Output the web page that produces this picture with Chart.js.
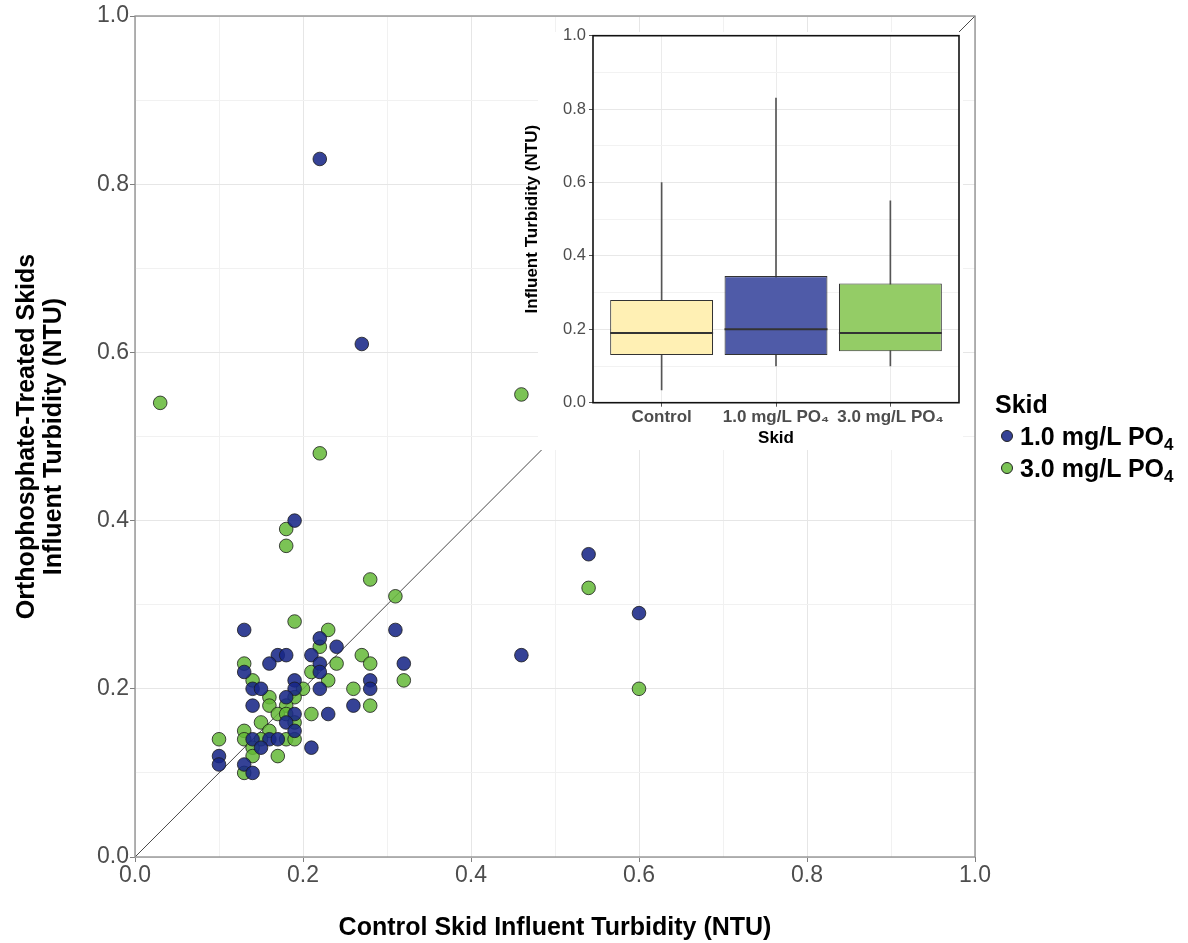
<!DOCTYPE html>
<html>
<head>
<meta charset="utf-8">
<title>Influent Turbidity by Skid</title>
<script src="https://cdn.jsdelivr.net/npm/chart.js@4.4.1/dist/chart.umd.min.js"></script>
<style>
    body { margin: 0; background: #fff; }
    #wrap { position: relative; width: 1188px; height: 943px; font-family: "Liberation Sans", Arial, sans-serif; }
    #main_canvas { position: absolute; left: 0; top: 0; }
    #inset_bg { position: absolute; left: 538px; top: 32px; width: 425px; height: 418px; background: #fff; }
    #inset_canvas { position: absolute; left: 500px; top: 15px; }
    #legend { position: absolute; left: 995px; top: 388px; font-weight: bold; font-size: 25px; color: #000; }
    #legend div { line-height: 32px; height: 32px; white-space: nowrap; }
    #legend .dot { display: inline-block; width: 10px; height: 10px; border-radius: 50%; border: 1px solid #222;
        margin: 0 7px 0 6px; vertical-align: middle; position: relative; top: -2px; }
    #legend sub { font-size: 17px; vertical-align: -5px; line-height: 0; }
</style>
</head>
<body>
<div id="wrap">
    <canvas id="main_canvas" width="1188" height="943"></canvas>
    <div id="inset_bg"></div>
    <canvas id="inset_canvas" width="475" height="445"></canvas>
    <div id="legend">
        <div>Skid</div>
        <div><span class="dot" style="background:#354296"></span>1.0 mg/L PO<sub>4</sub></div>
        <div><span class="dot" style="background:#7BC355"></span>3.0 mg/L PO<sub>4</sub></div>
    </div>
</div>
<script>
// paired influent turbidity (NTU): control skid on x, treated skid on y
var skidLabels = ['1.0 mg/L PO\u2084', '3.0 mg/L PO\u2084'];
var blueX = [0.22, 0.27, 0.19, 0.13, 0.31, 0.22, 0.24, 0.17, 0.18, 0.21, 0.16, 0.22, 0.32, 0.13,
    0.22, 0.19, 0.28, 0.14, 0.15, 0.19, 0.22, 0.28, 0.18, 0.14, 0.26, 0.19, 0.23, 0.18, 0.19,
    0.14, 0.16, 0.17, 0.15, 0.21, 0.10, 0.10, 0.13, 0.14, 0.54, 0.60, 0.46];
var blueY = [0.83, 0.61, 0.40, 0.27, 0.27, 0.26, 0.25, 0.24, 0.24, 0.24, 0.23, 0.23, 0.23, 0.22,
    0.22, 0.21, 0.21, 0.20, 0.20, 0.20, 0.20, 0.20, 0.19, 0.18, 0.18, 0.17, 0.17, 0.16, 0.15,
    0.14, 0.14, 0.14, 0.13, 0.13, 0.12, 0.11, 0.11, 0.10, 0.36, 0.29, 0.24];
var greenX = [0.03, 0.46, 0.22, 0.18, 0.18, 0.28, 0.31, 0.19, 0.23, 0.22, 0.27, 0.13, 0.24, 0.28,
    0.21, 0.14, 0.23, 0.32, 0.20, 0.26, 0.16, 0.19, 0.16, 0.18, 0.28, 0.17, 0.18, 0.21, 0.15,
    0.19, 0.13, 0.16, 0.10, 0.13, 0.15, 0.18, 0.19, 0.14, 0.14, 0.17, 0.13, 0.54, 0.60];
var greenY = [0.54, 0.55, 0.48, 0.39, 0.37, 0.33, 0.31, 0.28, 0.27, 0.25, 0.24, 0.23, 0.23, 0.23,
    0.22, 0.21, 0.21, 0.21, 0.20, 0.20, 0.19, 0.19, 0.18, 0.18, 0.18, 0.17, 0.17, 0.17, 0.16,
    0.16, 0.15, 0.15, 0.14, 0.14, 0.14, 0.14, 0.14, 0.13, 0.12, 0.12, 0.10, 0.32, 0.20];
// 1:1 reference line
var lineX = [0, 1];
var lineY = [0, 1];

// inset box plot summary per skid
var boxCategories = ['Control', '1.0 mg/L PO\u2084', '3.0 mg/L PO\u2084'];
var boxMin = [0.035, 0.10, 0.10];
var boxQ1 = [0.13, 0.13, 0.14];
var boxMedian = [0.19, 0.20, 0.19];
var boxQ3 = [0.28, 0.345, 0.325];
var boxMax = [0.60, 0.83, 0.55];
var boxColors = ['#FFF0B4', '#4F5BA8', '#94CC66'];

var fontFamily = '"Liberation Sans", Arial, sans-serif';
Chart.defaults.font.family = fontFamily;

function zip(xs, ys) {
    var out = [];
    for (var i = 0; i < xs.length; i++)
        out.push({ x: xs[i], y: ys[i] });
    return out;
}
function isMajor(v) {
    return Math.round(v * 10) % 2 == 0;
}

// full rectangle around the plotting panel
var panelBorder = {
    id: 'panelBorder',
    afterDraw: function (chart, args, opts) {
        var a = chart.chartArea;
        var ctx = chart.ctx;
        ctx.save();
        ctx.strokeStyle = opts.color;
        ctx.lineWidth = opts.width;
        ctx.strokeRect(a.left, a.top, a.right - a.left, a.bottom - a.top);
        ctx.restore();
    }
};

// median bar across each box
var medianLines = {
    id: 'medianLines',
    afterDatasetsDraw: function (chart) {
        var meta = chart.getDatasetMeta(0);
        var yScale = chart.scales.y;
        var ctx = chart.ctx;
        ctx.save();
        ctx.strokeStyle = '#333';
        ctx.lineWidth = 2;
        for (var i = 0; i < meta.data.length; i++) {
            var bar = meta.data[i];
            var y = yScale.getPixelForValue(boxMedian[i]);
            ctx.beginPath();
            ctx.moveTo(bar.x - bar.width / 2, y);
            ctx.lineTo(bar.x + bar.width / 2, y);
            ctx.stroke();
        }
        ctx.restore();
    }
};

function gridColor(ctx) {
    return isMajor(ctx.tick.value) ? '#E6E6E6' : '#F1F1F1';
}
function tickMarkColor(ctx) {
    return isMajor(ctx.tick.value) ? '#7F7F7F' : 'rgba(0,0,0,0)';
}
function tickLabel(value) {
    return isMajor(value) ? value.toFixed(1) : '';
}

var mainChart = new Chart('main_canvas', {
    type: 'scatter',
    data: {
        datasets: [{
                label: skidLabels[0],
                data: zip(blueX, blueY),
                backgroundColor: 'rgba(25,40,135,0.88)',
                borderColor: '#1a1a1a',
                borderWidth: 0.8,
                pointRadius: 6.8
            }, {
                label: skidLabels[1],
                data: zip(greenX, greenY),
                backgroundColor: 'rgba(100,185,55,0.85)',
                borderColor: '#1a1a1a',
                borderWidth: 0.8,
                pointRadius: 6.8
            }, {
                label: '1:1',
                data: zip(lineX, lineY),
                showLine: true,
                borderColor: '#1a1a1a',
                borderWidth: 0.8,
                pointRadius: 0
            }]
    },
    options: {
        responsive: false,
        animation: false,
        events: [],
        layout: { padding: { left: 0, right: 213, top: 16, bottom: 0 } },
        plugins: {
            legend: { display: false },
            tooltip: { enabled: false },
            panelBorder: { color: '#8C8C8C', width: 1.3 }
        },
        scales: {
            x: {
                type: 'linear',
                min: 0,
                max: 1,
                afterFit: function (s) { s.height = 86; },
                border: { display: false },
                grid: { color: gridColor, tickColor: tickMarkColor, tickLength: 5, lineWidth: 1 },
                ticks: {
                    stepSize: 0.1, autoSkip: false, maxRotation: 0, padding: 0,
                    color: '#4D4D4D', font: { size: 23 },
                    callback: tickLabel
                },
                title: {
                    display: true,
                    text: 'Control Skid Influent Turbidity (NTU)',
                    color: '#000',
                    font: { size: 25, weight: 'bold', lineHeight: 1.1 },
                    padding: { top: 0, bottom: 1 }
                }
            },
            y: {
                type: 'linear',
                min: 0,
                max: 1,
                afterFit: function (s) { s.width = 135; },
                border: { display: false },
                grid: { color: gridColor, tickColor: tickMarkColor, tickLength: 5, lineWidth: 1 },
                ticks: {
                    stepSize: 0.1, autoSkip: false, padding: 1,
                    color: '#4D4D4D', font: { size: 23 },
                    callback: tickLabel
                },
                title: {
                    display: true,
                    text: ['Orthophosphate-Treated Skids', 'Influent Turbidity (NTU)'],
                    color: '#000',
                    font: { size: 25, weight: 'bold', lineHeight: 1.1 },
                    padding: { top: 13, bottom: 0 }
                }
            }
        }
    },
    plugins: [panelBorder]
});

var boxData = [];
var whiskerData = [];
for (var i = 0; i < boxCategories.length; i++) {
    boxData.push({ x: i + 1, y: [boxQ1[i], boxQ3[i]] });
    whiskerData.push({ x: i + 1, y: [boxMin[i], boxMax[i]] });
}

var insetChart = new Chart('inset_canvas', {
    type: 'bar',
    data: {
        datasets: [{
                label: 'IQR',
                data: boxData,
                backgroundColor: boxColors,
                borderColor: '#333',
                borderWidth: 1.1,
                borderSkipped: false,
                grouped: false,
                barPercentage: 0.9,
                categoryPercentage: 1
            }, {
                label: 'range',
                data: whiskerData,
                backgroundColor: '#555',
                barThickness: 1,
                grouped: false
            }]
    },
    options: {
        responsive: false,
        animation: false,
        events: [],
        layout: { padding: { left: 0, right: 16, top: 20.7, bottom: 0 } },
        plugins: {
            legend: { display: false },
            tooltip: { enabled: false },
            panelBorder: { color: '#111', width: 1.6 }
        },
        scales: {
            x: {
                type: 'linear',
                min: 0.4,
                max: 3.6,
                offset: false,
                afterBuildTicks: function (s) {
                    s.ticks = boxCategories.map(function (c, i) { return { value: i + 1 }; });
                },
                afterFit: function (s) { s.height = 57.3; },
                border: { display: false },
                grid: { offset: false, color: '#EBEBEB', tickColor: '#555', tickLength: 4 },
                ticks: {
                    autoSkip: false, maxRotation: 0, padding: 0,
                    color: '#4D4D4D', font: { size: 17, weight: 'bold' },
                    callback: function (v) { return boxCategories[Math.round(v) - 1]; }
                },
                title: {
                    display: true,
                    text: 'Skid',
                    color: '#000',
                    font: { size: 17, weight: 'bold', lineHeight: 1.2 },
                    padding: { top: 0, bottom: 11.8 }
                }
            },
            y: {
                type: 'linear',
                min: 0,
                max: 1,
                afterFit: function (s) { s.width = 93; },
                border: { display: false },
                grid: {
                    color: function (ctx) { return isMajor(ctx.tick.value) ? '#E8E8E8' : '#F2F2F2'; },
                    tickColor: function (ctx) { return isMajor(ctx.tick.value) ? '#555' : 'rgba(0,0,0,0)'; },
                    tickLength: 4
                },
                ticks: {
                    stepSize: 0.1, autoSkip: false, padding: 3,
                    color: '#4D4D4D', font: { size: 16.5 },
                    callback: tickLabel
                },
                title: {
                    display: true,
                    text: 'Influent Turbidity (NTU)',
                    color: '#000',
                    font: { size: 17, weight: 'bold', lineHeight: 1.2 },
                    padding: { top: 21.8, bottom: 0 }
                }
            }
        }
    },
    plugins: [panelBorder, medianLines]
});
</script>
</body>
</html>
